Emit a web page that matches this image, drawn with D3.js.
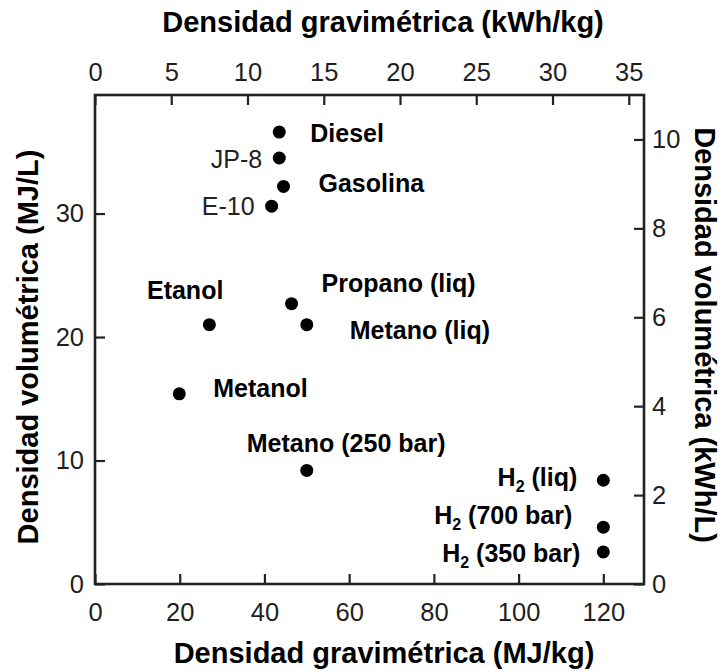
<!DOCTYPE html>
<html>
<head>
<meta charset="utf-8">
<script src="https://cdn.jsdelivr.net/npm/d3@7/dist/d3.min.js"></script>
<style>
  html, body { margin: 0; padding: 0; background: #fff; }
  svg { display: block; }
  text { font-family: "Liberation Sans", Arial, sans-serif; }
</style>
</head>
<body>
<svg id="chart" width="724" height="672"></svg>
<script>
// Fuels: gravimetric energy density (MJ/kg) vs volumetric energy density (MJ/L)
const fuels = ["Diesel", "JP-8", "Gasolina", "E-10", "Etanol", "Propano (liq)",
               "Metano (liq)", "Metanol", "Metano (250 bar)",
               "H2 (liq)", "H2 (700 bar)", "H2 (350 bar)"];
const gravimetric = [43.5, 43.5, 44.5, 41.7, 27.0, 46.4, 50.0, 19.9, 50.0, 120, 120, 120];
const volumetric  = [36.6, 34.5, 32.2, 30.6, 21.0, 22.7, 21.0, 15.4, 9.2, 8.4, 4.6, 2.6];

// Tick values for the four axes
const ticksMJkg  = [0, 20, 40, 60, 80, 100, 120];
const ticksKWhkg = [0, 5, 10, 15, 20, 25, 30, 35];
const ticksMJL   = [0, 10, 20, 30];
const ticksKWhL  = [0, 2, 4, 6, 8, 10];

// Label placement relative to each point: anchor, dx, dy (to cap centre), bold
const labelLayout = [
  { anchor: "start", dx: 31,  dy: 1,   bold: true },
  { anchor: "end",   dx: -17, dy: 1,   bold: false },
  { anchor: "start", dx: 35,  dy: -3,  bold: true },
  { anchor: "end",   dx: -17, dy: 0,   bold: false },
  { anchor: "end",   dx: 14,  dy: -35, bold: true },
  { anchor: "start", dx: 30,  dy: -21, bold: true },
  { anchor: "start", dx: 43,  dy: 5,   bold: true },
  { anchor: "start", dx: 34,  dy: -6,  bold: true },
  { anchor: "start", dx: -60, dy: -27, bold: true },
  { anchor: "end",   dx: -26, dy: -3,  bold: true },
  { anchor: "end",   dx: -31, dy: -12, bold: true },
  { anchor: "end",   dx: -23, dy: 1,   bold: true }
];

const MJ_PER_KWH = 3.6;
const plotLeft = 95, plotRight = 644, plotTop = 95, plotBottom = 584;

const x = d3.scaleLinear().domain([0, 36 * MJ_PER_KWH]).range([plotLeft, plotRight]);
const y = d3.scaleLinear().domain([0, 11 * MJ_PER_KWH]).range([plotBottom, plotTop]);
const xTop = d3.scaleLinear().domain([0, 36]).range([plotLeft, plotRight]);
const yRight = d3.scaleLinear().domain([0, 11]).range([plotBottom, plotTop]);

const svg = d3.select("#chart");
const axisColor = "#222";
const tickFont = 25.5;

function styleAxis(g) {
  g.select(".domain").remove();
  g.selectAll(".tick line").attr("stroke", axisColor).attr("stroke-width", 2.2);
  g.selectAll(".tick text")
    .attr("fill", "#1f1f1f")
    .style("font-size", tickFont + "px")
    .style("font-family", "'Liberation Sans', Arial, sans-serif");
}

svg.append("g")
  .attr("transform", `translate(0,${plotBottom})`)
  .call(d3.axisBottom(x).tickValues(ticksMJkg).tickFormat(d3.format("d"))
        .tickSizeInner(-10).tickSizeOuter(0).tickPadding(19))
  .call(styleAxis);

svg.append("g")
  .attr("transform", `translate(0,${plotTop})`)
  .call(d3.axisTop(xTop).tickValues(ticksKWhkg).tickFormat(d3.format("d"))
        .tickSizeInner(-10).tickSizeOuter(0).tickPadding(14))
  .call(styleAxis);

svg.append("g")
  .attr("transform", `translate(${plotLeft},0)`)
  .call(d3.axisLeft(y).tickValues(ticksMJL).tickFormat(d3.format("d"))
        .tickSizeInner(-10).tickSizeOuter(0).tickPadding(11))
  .call(styleAxis);

svg.append("g")
  .attr("transform", `translate(${plotRight},0)`)
  .call(d3.axisRight(yRight).tickValues(ticksKWhL).tickFormat(d3.format("d"))
        .tickSizeInner(-10).tickSizeOuter(0).tickPadding(8))
  .call(styleAxis);

// Plot frame
svg.append("rect")
  .attr("x", plotLeft).attr("y", plotTop)
  .attr("width", plotRight - plotLeft).attr("height", plotBottom - plotTop)
  .attr("fill", "none").attr("stroke", axisColor).attr("stroke-width", 2.6);

// Axis titles
const titleFont = 29;
const titleStyle = t => t.attr("font-weight", "bold").attr("fill", "#000")
  .style("font-size", titleFont + "px").attr("text-anchor", "middle")
  .attr("dominant-baseline", "central");

svg.append("text").attr("x", 383).attr("y", 22)
  .text("Densidad gravimétrica (kWh/kg)").call(titleStyle);
svg.append("text").attr("x", 384).attr("y", 653)
  .text("Densidad gravimétrica (MJ/kg)").call(titleStyle);
svg.append("text").attr("transform", "translate(28,347) rotate(-90)")
  .text("Densidad volumétrica (MJ/L)").call(titleStyle);
svg.append("text").attr("transform", "translate(705,335) rotate(90)")
  .text("Densidad volumétrica (kWh/L)").call(titleStyle);

// Points
const data = fuels.map((name, i) => ({
  name, gx: gravimetric[i], vy: volumetric[i], layout: labelLayout[i]
}));

svg.append("g").selectAll("circle").data(data).join("circle")
  .attr("cx", d => x(d.gx)).attr("cy", d => y(d.vy))
  .attr("r", 6.5).attr("fill", "#000");

// Point labels (H2 drawn with a subscript 2)
const labelFont = 25;
const labels = svg.append("g").selectAll("text").data(data).join("text")
  .attr("x", d => x(d.gx) + d.layout.dx)
  .attr("y", d => y(d.vy) + d.layout.dy + 0.358 * labelFont)
  .attr("text-anchor", d => d.layout.anchor)
  .attr("font-weight", d => d.layout.bold ? "bold" : "normal")
  .attr("fill", d => d.layout.bold ? "#000" : "#222")
  .style("font-size", labelFont + "px");

labels.each(function(d) {
  const t = d3.select(this);
  if (d.name.startsWith("H2")) {
    t.append("tspan").text("H");
    t.append("tspan").text("2").attr("dy", 6).style("font-size", "16px");
    t.append("tspan").text(d.name.slice(2)).attr("dy", -6);
  } else {
    t.text(d.name);
  }
});
</script>
</body>
</html>
